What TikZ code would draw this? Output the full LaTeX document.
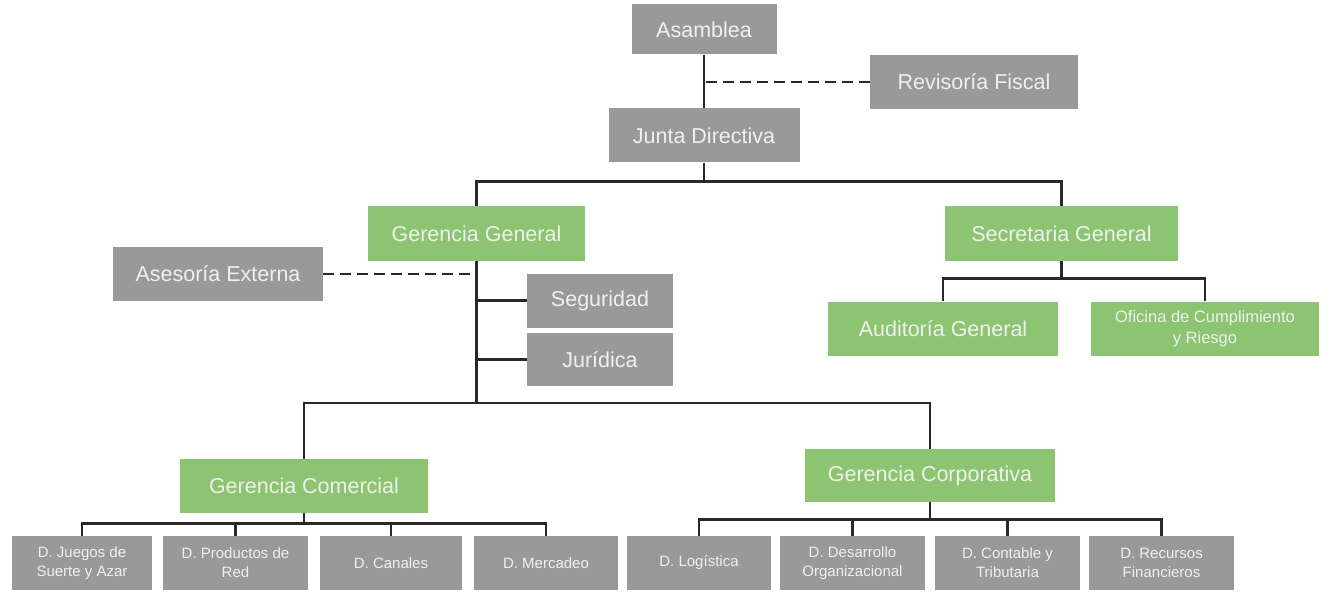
\documentclass[tikz,border=0pt]{standalone}
\usepackage{fontspec}
\setmainfont{Liberation Sans}
\definecolor{boxgray}{RGB}{153,153,153}
\definecolor{boxgreen}{RGB}{141,196,113}
\definecolor{linegray}{RGB}{40,40,40}
\begin{document}
\begin{tikzpicture}[x=1pt,y=-1pt,
  gbox/.style={fill=boxgray, text=white!94!black, minimum height=54pt, inner sep=0pt, font=\fontsize{21.5}{25}\selectfont},
  vbox/.style={gbox, fill=boxgreen},
  leaf/.style={gbox, minimum width=145pt, align=center, font=\fontsize{15}{19}\selectfont},
  link/.style={draw=linegray, line width=2.6pt},
  aux/.style={link, dash pattern=on 11pt off 6pt}]
  \useasboundingbox (0,0) rectangle (1333,596);

  % top of the chart
  \node[gbox, minimum width=145pt, minimum height=50pt] (asam) at (704,29.5) {Asamblea};
  \node[gbox, minimum width=208pt] (revi) at (974,82) {Revisoría Fiscal};
  \node[gbox, minimum width=191pt] (junta) at (704,135.5) {Junta Directiva};

  % second level
  \node[vbox, minimum width=217pt] (gg) at (476.5,233.5) {Gerencia General};
  \node[vbox, minimum width=233pt] (sg) at (1061.5,233.5) {Secretaria General};
  \node[gbox, minimum width=210pt] (ase) at (218,274) {Asesoría Externa};
  \node[gbox, minimum width=146pt] (seg) at (600,300.5) {Seguridad};
  \node[gbox, minimum width=146pt, minimum height=53pt] (jur) at (600,359.5) {Jurídica};
  \node[vbox, minimum width=230pt] (aud) at (943,328.5) {Auditoría General};
  \node[vbox, minimum width=228pt, align=center, font=\fontsize{16.5}{21}\selectfont] (ofi) at (1205,328.5) {Oficina de Cumplimiento\\y Riesgo};

  % gerencias
  \node[vbox, minimum width=248pt] (gcom) at (304,486) {Gerencia Comercial};
  \node[vbox, minimum width=250pt, minimum height=53pt] (gcor) at (930,475.5) {Gerencia Corporativa};

  % direcciones
  \node[leaf, minimum width=140pt] (jue) at (82,563) {D. Juegos de\\Suerte y Azar};
  \node[leaf] (pro) at (235.5,563) {D. Productos de\\Red};
  \node[leaf, minimum width=142pt] (can) at (391,563) {D. Canales};
  \node[leaf, minimum width=144pt] (mer) at (546,563) {D. Mercadeo};
  \node[leaf, minimum width=144pt] (log) at (699,563) {D. Logística};
  \node[leaf] (des) at (852.5,563) {D. Desarrollo\\Organizacional};
  \node[leaf] (con) at (1007.5,563) {D. Contable y\\Tributaria};
  \node[leaf] (rec) at (1161.5,563) {D. Recursos\\Financieros};

  \coordinate (bus) at (476.5,403);

  \draw[link] (asam.south) -- (junta.north);
  \draw[aux] (revi.west) -- (revi.west -| asam.south);
  \draw[link] (junta.south) -- ++(0,19) -| (gg.north);
  \draw[link] (junta.south) -- ++(0,19) -| (sg.north);
  \draw[link] (gg.south) -- (bus);
  \draw[aux] (ase.east) -- (ase.east -| gg.south);
  \draw[link] (seg.west) -- (seg.west -| gg.south);
  \draw[link] (jur.west) -- (jur.west -| gg.south);
  \draw[link] (gcom.north) |- (bus) -| (gcor.north);
  \foreach \n in {aud,ofi}
    \draw[link] (sg.south) -- ++(0,18) -| (\n.north);
  \foreach \n in {jue,pro,can,mer}
    \draw[link] (gcom.south) -- ++(0,10) -| (\n.north);
  \foreach \n in {log,des,con,rec}
    \draw[link] (gcor.south) -- ++(0,17) -| (\n.north);
\end{tikzpicture}
\end{document}
